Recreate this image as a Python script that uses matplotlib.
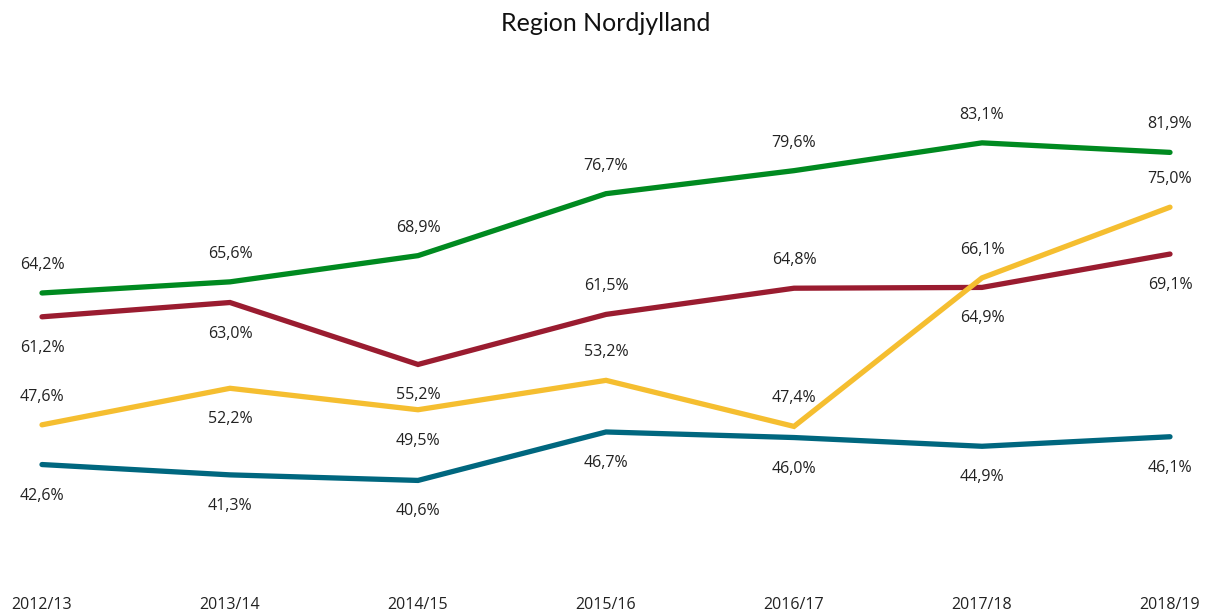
import matplotlib
matplotlib.use("Agg")
import matplotlib.pyplot as plt

years = ["2012/13", "2013/14", "2014/15", "2015/16", "2016/17", "2017/18", "2018/19"]
green = [64.2, 65.6, 68.9, 76.7, 79.6, 83.1, 81.9]
red = [61.2, 63.0, 55.2, 61.5, 64.8, 64.9, 69.1]
yellow = [47.6, 52.2, 49.5, 53.2, 47.4, 66.1, 75.0]
teal = [42.6, 41.3, 40.6, 46.7, 46.0, 44.9, 46.1]

# label placement: 1 = above, -1 = below
green_pos = [1, 1, 1, 1, 1, 1, 1]
red_pos = [-1, -1, -1, 1, 1, -1, -1]
yellow_pos = [1, -1, -1, 1, 1, 1, 1]
teal_pos = [-1, -1, -1, -1, -1, -1, -1]

series = [
    (green, "#008A20", green_pos),
    (red, "#9A1C30", red_pos),
    (yellow, "#F5BE30", yellow_pos),
    (teal, "#00677F", teal_pos),
]

fig = plt.figure(figsize=(12.12, 6.11), dpi=100)
ax = fig.add_axes([0, 0.0759, 1, 0.845])
ax.set_xlim(-0.2234, 6.2234)
ax.set_ylim(30, 95)
x = list(range(len(years)))

lab_font = "Open Sans"
for vals, col, pos in series:
    ax.plot(x, vals, color=col, lw=3.8, solid_capstyle="round", solid_joinstyle="miter")
    for xi, v, p in zip(x, vals, pos):
        off = 28 if p > 0 else -31
        ax.annotate(f"{v:.1f}%".replace(".", ","), (xi, v), xytext=(0, off * 0.72),
                    textcoords="offset points", ha="center", va="center",
                    fontsize=11.5, family=lab_font, color="#222222")

for s in ax.spines.values():
    s.set_visible(False)
ax.set_yticks([])
ax.set_xticks(x)
ax.set_xticklabels(years, family=lab_font, fontsize=11.5, color="#222222")
ax.tick_params(axis="x", length=0, pad=23)

fig.text(0.5, 0.961, "Region Nordjylland", ha="center", va="center",
         fontsize=18, family="Lato", color="#111111")

fig.savefig("out.png", dpi=100)
